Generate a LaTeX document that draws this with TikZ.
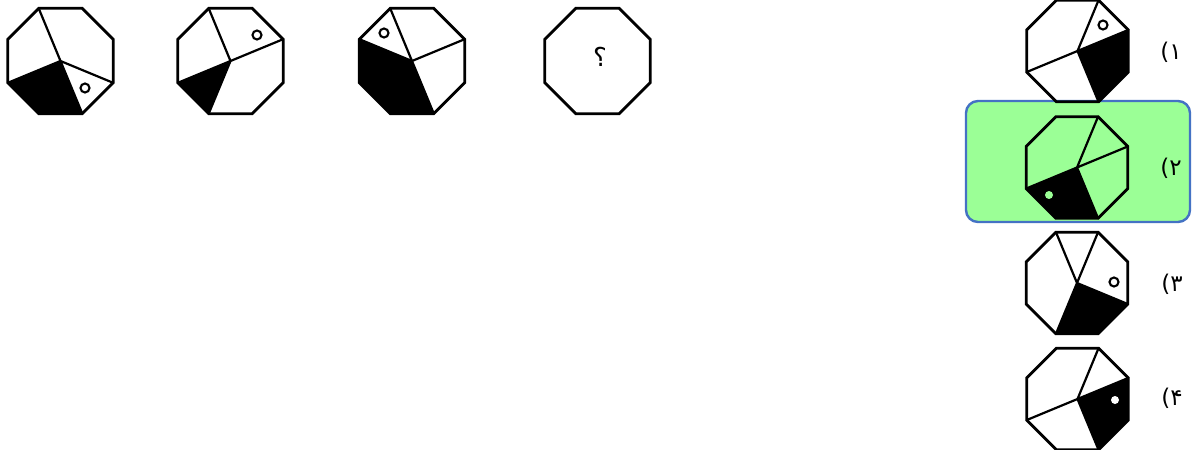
\documentclass[tikz,border=0pt]{standalone}
\usepackage{fontspec}
\newfontfamily\arabicfont[Script=Arabic]{DejaVu Sans}
\newfontfamily\plainsans{DejaVu Sans}
\definecolor{optgreen}{RGB}{155,255,150}
\definecolor{optblue}{RGB}{68,114,196}
\newcommand\octo[4]{%
  \coordinate (#1-c) at (#2,#3);
  \foreach \k in {0,...,7}{%
    \coordinate (#1-\k) at ({#2+#4*cos(45*\k-112.5)},{#3+#4*sin(45*\k-112.5)});}%
}
\newcommand\optlabel[1]{{\plainsans(}{\arabicfont #1}}
\begin{document}
\begin{tikzpicture}[x=1pt,y=-1pt,
  outline/.style={line width=2.8pt,line join=miter},
  inner/.style={line width=2.2pt,line cap=round},
  blackpart/.style={fill=black},
  ring/.style={draw=black,fill=white,line width=2.1pt},
  dot/.style={fill=white},
  lbl/.style={font=\fontsize{23}{27}\selectfont,inner sep=0pt}]
\useasboundingbox (0,0) rectangle (1192,450);
\fill[white] (0,0) rectangle (1192,450);

% green answer box
\draw[optblue,fill=optgreen,line width=2.4pt,rounded corners=12pt] (966,101) rectangle (1190,222);

% ---- question row ----
\octo{a}{60.5}{61}{57}
\fill[blackpart] (a-c) -- (a-6) -- (a-5) -- (a-4) -- cycle;
\draw[inner] (a-c) -- (a-0) (a-c) -- (a-6) (a-c) -- (a-4) (a-c) -- (a-3);
\draw[ring] (85,88) circle (4.5);
\draw[outline] (a-0) -- (a-1) -- (a-2) -- (a-3) -- (a-4) -- (a-5) -- (a-6) -- (a-7) -- cycle;

\octo{b}{230.5}{61}{57}
\fill[blackpart] (b-c) -- (b-6) -- (b-5) -- cycle;
\draw[inner] (b-c) -- (b-0) (b-c) -- (b-2) (b-c) -- (b-6) (b-c) -- (b-5);
\draw[ring] (257,35) circle (4.5);
\draw[outline] (b-0) -- (b-1) -- (b-2) -- (b-3) -- (b-4) -- (b-5) -- (b-6) -- (b-7) -- cycle;

\octo{c}{412}{61}{57}
\fill[blackpart] (c-c) -- (c-7) -- (c-6) -- (c-5) -- (c-4) -- cycle;
\draw[inner] (c-c) -- (c-0) (c-c) -- (c-7) (c-c) -- (c-2) (c-c) -- (c-4);
\draw[ring] (384,33) circle (4.5);
\draw[outline] (c-0) -- (c-1) -- (c-2) -- (c-3) -- (c-4) -- (c-5) -- (c-6) -- (c-7) -- cycle;

\octo{d}{597.5}{61}{57}
\draw[outline] (d-0) -- (d-1) -- (d-2) -- (d-3) -- (d-4) -- (d-5) -- (d-6) -- (d-7) -- cycle;
\node[inner sep=0pt,font=\arabicfont\fontsize{26}{30}\selectfont] (qm) at (600,57) {؟};

% ---- options ----
\octo{o}{1077.5}{51}{55}
\fill[blackpart] (o-c) -- (o-2) -- (o-3) -- (o-4) -- cycle;
\draw[inner] (o-c) -- (o-1) (o-c) -- (o-2) (o-c) -- (o-6) (o-c) -- (o-4);
\draw[ring] (1103,25) circle (4.5);
\draw[outline] (o-0) -- (o-1) -- (o-2) -- (o-3) -- (o-4) -- (o-5) -- (o-6) -- (o-7) -- cycle;
\node[lbl] (l1) at (1171,52) {\optlabel{۱}};

\octo{p}{1077}{167.5}{55}
\fill[blackpart] (p-c) -- (p-6) -- (p-5) -- (p-4) -- cycle;
\draw[inner] (p-c) -- (p-1) (p-c) -- (p-2) (p-c) -- (p-6) (p-c) -- (p-4);
\fill[optgreen] (1049,195) circle (4);
\draw[outline] (p-0) -- (p-1) -- (p-2) -- (p-3) -- (p-4) -- (p-5) -- (p-6) -- (p-7) -- cycle;
\node[lbl] (l2) at (1171,168) {\optlabel{۲}};

\octo{q}{1077}{283}{55}
\fill[blackpart] (q-c) -- (q-3) -- (q-4) -- (q-5) -- cycle;
\draw[inner] (q-c) -- (q-0) (q-c) -- (q-1) (q-c) -- (q-3) (q-c) -- (q-5);
\draw[ring] (1114,282) circle (4.5);
\draw[outline] (q-0) -- (q-1) -- (q-2) -- (q-3) -- (q-4) -- (q-5) -- (q-6) -- (q-7) -- cycle;
\node[lbl] (l3) at (1172,284) {\optlabel{۳}};

\octo{r}{1077.5}{399}{55}
\fill[blackpart] (r-c) -- (r-2) -- (r-3) -- (r-4) -- cycle;
\draw[inner] (r-c) -- (r-1) (r-c) -- (r-2) (r-c) -- (r-6) (r-c) -- (r-4);
\fill[dot] (1115,400) circle (4);
\draw[outline] (r-0) -- (r-1) -- (r-2) -- (r-3) -- (r-4) -- (r-5) -- (r-6) -- (r-7) -- cycle;
\node[lbl] (l4) at (1172,398) {\optlabel{۴}};
\end{tikzpicture}
\end{document}
